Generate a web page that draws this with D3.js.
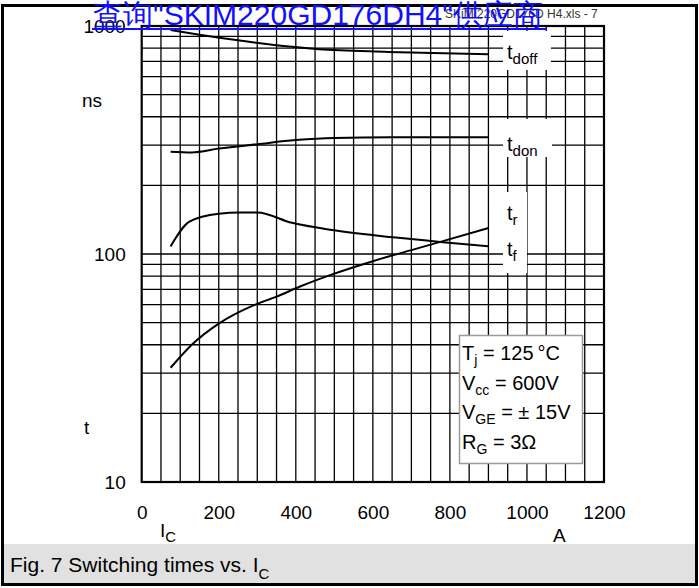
<!DOCTYPE html>
<html>
<head>
<meta charset="utf-8">
<script src="https://cdn.jsdelivr.net/npm/d3@7"></script>
<style>
  body { margin: 0; background: #fff; }
  svg text { font-family: "Liberation Sans", Arial, sans-serif; fill: #000; }
</style>
</head>
<body>
<svg id="chart" width="699" height="588"></svg>
<script>
// data (I_C in A, t in ns)
const tdoffI = [75, 150, 250, 390, 460, 640, 900];
const tdoffT = [960, 915, 865, 810, 790, 770, 752];
const tdonI = [75, 130, 200, 300, 400, 500, 650, 900];
const tdonT = [281, 279, 290, 303, 316, 323, 325, 325];
const tfI = [75, 125, 200, 255, 300, 390, 500, 660, 775, 900];
const tfT = [108, 139, 150, 152, 152, 137, 127, 118, 113, 108];
const trI = [75, 130, 200, 290, 350, 411, 500, 600, 700, 775, 900];
const trT = [31.7, 40, 49.5, 59.5, 65, 72, 82, 93, 104, 113, 130];

const xTicks = [0, 200, 400, 600, 800, 1000, 1200];
const yTicks = [10, 100, 1000];

const svg = d3.select('#chart');

const x = d3.scaleLinear().domain([0, 1200]).range([141.7, 604]);
const y = d3.scaleLog().domain([10, 1000]).range([482, 26]);

// outer frame
svg.append('rect')
  .attr('x', 2.5).attr('y', 5.5).attr('width', 694).attr('height', 579)
  .attr('fill', 'none').attr('stroke', '#000').attr('stroke-width', 3);

// caption band
svg.append('rect')
  .attr('x', 4).attr('y', 544).attr('width', 691).attr('height', 39)
  .attr('fill', '#e1e1e1');
svg.append('text')
  .attr('x', 10).attr('y', 572)
  .style('font-size', '21px')
  .text('Fig. 7 Switching times vs. I')
  .append('tspan').attr('dy', 7).style('font-size', '15px').text('C');

// grid
const grid = svg.append('g').attr('stroke', '#000').attr('stroke-width', 1.3);
grid.selectAll('.vg')
  .data(d3.range(50, 1200, 50))
  .enter().append('line')
  .attr('x1', (d) => x(d)).attr('x2', (d) => x(d))
  .attr('y1', y(1000)).attr('y2', y(10));
grid.selectAll('.hg')
  .data(y.ticks().filter((d) => d > 10 && d < 1000))
  .enter().append('line')
  .attr('x1', x(0)).attr('x2', x(1200))
  .attr('y1', (d) => y(d)).attr('y2', (d) => y(d));

// white boxes behind curve labels
const boxes = [
  [503, 31, 48, 39],
  [503, 119, 49, 38],
  [503, 192, 24, 81],
];
svg.selectAll('.lbox')
  .data(boxes)
  .enter().append('rect')
  .attr('x', (d) => d[0]).attr('y', (d) => d[1])
  .attr('width', (d) => d[2]).attr('height', (d) => d[3])
  .attr('fill', '#fff');

// plot frame
svg.append('rect')
  .attr('x', x(0)).attr('y', y(1000))
  .attr('width', x(1200) - x(0)).attr('height', y(10) - y(1000))
  .attr('fill', 'none').attr('stroke', '#000').attr('stroke-width', 2.2);

// curves
const line = d3.line()
  .x((d) => x(d[0]))
  .y((d) => y(d[1]))
  .curve(d3.curveMonotoneX);
const series = [
  d3.zip(tdoffI, tdoffT),
  d3.zip(tdonI, tdonT),
  d3.zip(tfI, tfT),
  d3.zip(trI, trT),
];
series.forEach((s) => {
  svg.append('path')
    .datum(s)
    .attr('fill', 'none')
    .attr('stroke', '#000')
    .attr('stroke-width', 2)
    .attr('d', line);
});

// curve labels
const labels = [
  ['doff', 59],
  ['don', 151],
  ['r', 220],
  ['f', 256],
];
labels.forEach(([sub, by]) => {
  const t = svg.append('text')
    .attr('x', 507).attr('y', by)
    .style('font-size', '20px')
    .text('t');
  t.append('tspan').attr('dy', 5).style('font-size', '15px').text(sub);
});

// axes
const xAxis = svg.append('g')
  .attr('transform', `translate(0,${y(10)})`)
  .call(d3.axisBottom(x).tickValues(xTicks).tickFormat(d3.format('d')).tickSize(0).tickPadding(24));
xAxis.select('.domain').remove();
xAxis.selectAll('text').style('font-size', '19px').style('font-family', '"Liberation Sans", Arial, sans-serif');

const yAxis = svg.append('g')
  .attr('transform', `translate(${x(0)},0)`)
  .call(d3.axisLeft(y).tickValues(yTicks).tickFormat(d3.format('d')).tickSize(0).tickPadding(16));
yAxis.select('.domain').remove();
yAxis.selectAll('text').style('font-size', '19px').style('font-family', '"Liberation Sans", Arial, sans-serif');

svg.append('text').attr('x', 82).attr('y', 107).style('font-size', '19px').text('ns');
svg.append('text').attr('x', 84).attr('y', 434).style('font-size', '19px').text('t');
svg.append('text').attr('x', 553).attr('y', 542).style('font-size', '19px').text('A');
svg.append('text').attr('x', 160).attr('y', 537).style('font-size', '19px').text('I')
  .append('tspan').attr('dy', 5).style('font-size', '15px').text('C');

// conditions box
svg.append('rect')
  .attr('x', 459.5).attr('y', 335.5).attr('width', 123).attr('height', 128)
  .attr('fill', '#fff').attr('stroke', '#9a9a9a').attr('stroke-width', 1.5);
const conds = [
  ['T', 'j', ' = 125\u2009°C'],
  ['V', 'cc', ' = 600V'],
  ['V', 'GE', ' = ± 15V'],
  ['R', 'G', ' = 3Ω'],
];
conds.forEach(([a, sub, rest], i) => {
  const t = svg.append('text')
    .attr('x', 462).attr('y', 360 + i * 29.5)
    .style('font-size', '20px')
    .text(a);
  t.append('tspan').attr('dy', 5).style('font-size', '14px').text(sub);
  t.append('tspan').attr('dy', -5).text(rest);
});

// file tag and watermark
svg.append('text')
  .attr('x', 445).attr('y', 18)
  .style('font-size', '12px').style('fill', '#333')
  .text('SKiM 220GD176D H4.xls - 7');
svg.append('text')
  .attr('x', 93).attr('y', 25)
  .attr('textLength', 450).attr('lengthAdjust', 'spacingAndGlyphs')
  .style('font-size', '30px').style('fill', '#1010ff')
  .text('查询"SKIM220GD176DH4"供应商');
svg.append('line')
  .attr('x1', 92).attr('x2', 547).attr('y1', 29).attr('y2', 29)
  .attr('stroke', '#1010ff').attr('stroke-width', 2);
</script>
</body>
</html>
